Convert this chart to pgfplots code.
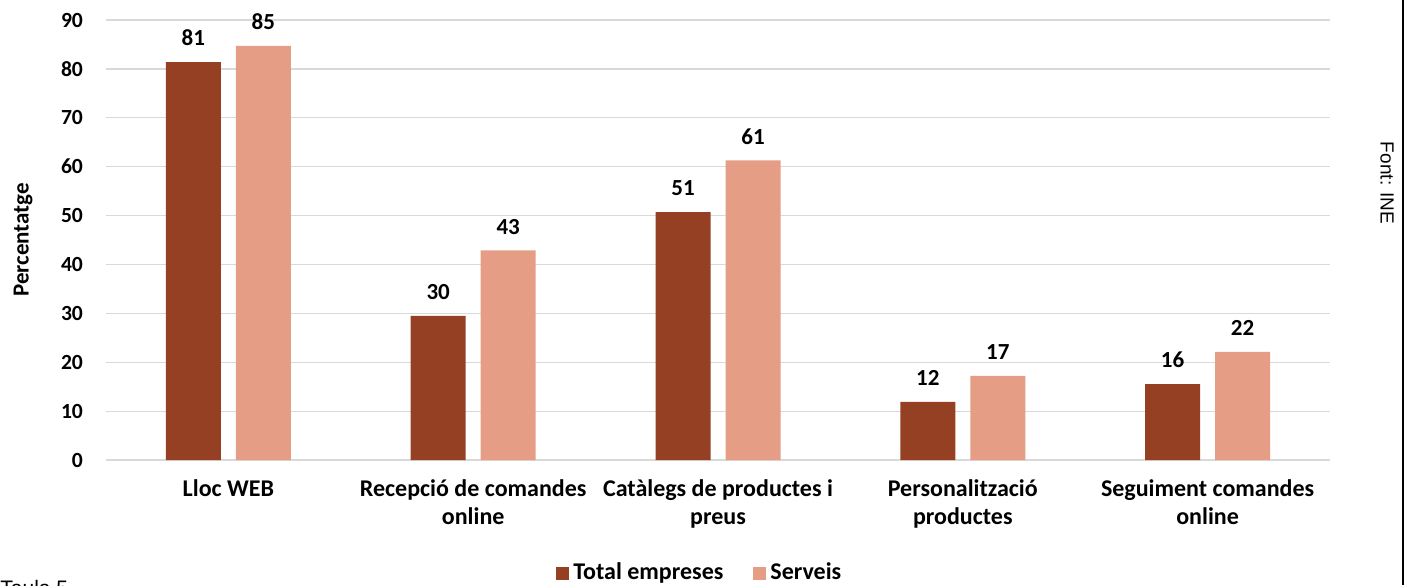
\documentclass[border=0pt]{standalone}
\usepackage{pgfplots}
\pgfplotsset{compat=1.18}
\usepackage{fontspec}
\setmainfont{Carlito}
\newfontfamily\arial{Liberation Sans}
\definecolor{darkbar}{RGB}{149,64,35}
\definecolor{lightbar}{RGB}{229,158,133}
\definecolor{gridc}{RGB}{217,217,217}
\begin{document}
\begin{tikzpicture}[x=1pt,y=1pt]
\useasboundingbox (0,0) rectangle (702.5,292.5);
\begin{axis}[
  at={(53pt,62.5pt)}, anchor=south west, scale only axis,
  width=612pt, height=220pt,
  xmin=-0.5, xmax=4.5, ymin=0, ymax=90,
  ytick={0,10,...,90},
  xtick={0,...,4},
  xticklabels={Lloc WEB, {Recepció de comandes\\online}, {Catàlegs de productes i\\preus}, {Personalització\\productes}, {Seguiment comandes\\online}},
  axis line style={draw=none},
  ymajorgrids, grid style={gridc, line width=0.6pt},
  major tick length=0pt,
  /pgf/number format/assume math mode=true,
  yticklabel style={font=\fontsize{10.8}{12}\selectfont\bfseries, xshift=-8pt},
  xticklabel style={font=\fontsize{12}{14}\selectfont\bfseries, align=center, yshift=-6.5pt},
  ybar, bar width=27.5pt,
  point meta=explicit symbolic,
  nodes near coords={\pgfplotspointmeta},
  nodes near coords style={font=\fontsize{11.5}{12}\selectfont\bfseries, yshift=4.5pt},
  legend columns=2,
  legend style={at={(0.486,-0.257)}, anchor=center, draw=none, font=\fontsize{12}{13}\selectfont\bfseries,
    /tikz/every even column/.append style={column sep=13pt}},
  legend image code/.code={\fill[#1] (0pt,-3.25pt) rectangle (6.5pt,3.25pt);},
]
\addplot[fill=darkbar, draw=none, bar shift=-17.5pt] coordinates {(0,81.4) [81] (1,29.5) [30] (2,50.7) [51] (3,11.9) [12] (4,15.5) [16]};
\addplot[fill=lightbar, draw=none, bar shift=17.5pt] coordinates {(0,84.7) [85] (1,42.9) [43] (2,61.3) [61] (3,17.2) [17] (4,22.1) [22]};
\legend{Total empreses, Serveis}
\end{axis}
\node[font=\fontsize{11.5}{13}\selectfont\bfseries, rotate=90] at (11.5,172.5) {Percentatge};
\node[font=\arial\fontsize{9.5}{12}\selectfont, rotate=-90] at (693.5,201) {Font: INE};
\draw[line width=1pt] (701.5,0) -- (701.5,292.5);
\node[font=\arial\fontsize{10.5}{12}\selectfont, anchor=base west, inner sep=0pt] at (0,-5) {Taula 5};
\end{tikzpicture}
\end{document}
